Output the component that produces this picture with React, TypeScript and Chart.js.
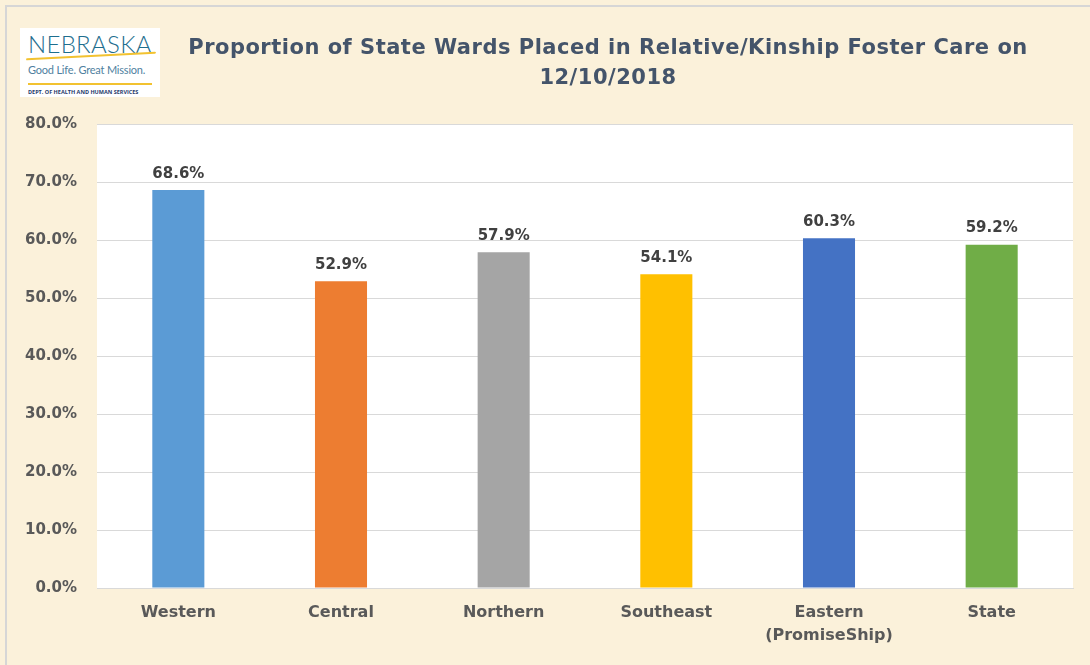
import React, { useEffect, useRef } from "react";
import { Chart, registerables } from "chart.js";

Chart.register(...registerables);

const categories: (string | string[])[] = [
  "Western",
  "Central",
  "Northern",
  "Southeast",
  ["Eastern", "(PromiseShip)"],
  "State",
];
const values: number[] = [68.6, 52.9, 57.9, 54.1, 60.3, 59.2];
const barColors: string[] = ["#5B9BD5", "#ED7D31", "#A5A5A5", "#FFC000", "#4472C4", "#70AD47"];
const yTicks: number[] = [0, 10, 20, 30, 40, 50, 60, 70, 80];
const titleLines: string[] = [
  "Proportion of State Wards Placed in Relative/Kinship Foster Care on",
  "12/10/2018",
];

const FONT = "'DejaVu Sans', Verdana, sans-serif";

const plotBg = {
  id: "plotBg",
  beforeDraw(chart: any) {
    const { ctx, chartArea } = chart;
    ctx.save();
    ctx.fillStyle = "#FFFFFF";
    ctx.fillRect(chartArea.left, chartArea.top, chartArea.right - chartArea.left, chartArea.bottom - chartArea.top);
    ctx.restore();
  },
};

const valueLabels = {
  id: "valueLabels",
  afterDatasetsDraw(chart: any) {
    const { ctx } = chart;
    const meta = chart.getDatasetMeta(0);
    ctx.save();
    ctx.font = `bold 15px ${FONT}`;
    ctx.fillStyle = "#404040";
    ctx.textAlign = "center";
    ctx.textBaseline = "bottom";
    meta.data.forEach((bar: any, i: number) => {
      ctx.fillText(values[i].toFixed(1) + "%", bar.x, bar.y - 9);
    });
    ctx.restore();
  },
};

export default function App() {
  const ref = useRef<HTMLCanvasElement | null>(null);
  useEffect(() => {
    if (!ref.current) return;
    const chart = new Chart(ref.current, {
      type: "bar",
      data: {
        labels: categories,
        datasets: [
          {
            data: values,
            backgroundColor: barColors,
            borderWidth: 0,
            categoryPercentage: 1,
            barPercentage: 0.32,
          },
        ],
      },
      options: {
        animation: false,
        responsive: false,
        devicePixelRatio: 1,
        layout: { padding: { top: 124, right: 17, bottom: 0, left: 0 } },
        plugins: { legend: { display: false }, tooltip: { enabled: false }, title: { display: false } },
        scales: {
          x: {
            grid: { display: false, drawTicks: false },
            border: { display: true, color: "#D9D9D9", width: 1 },
            ticks: {
              padding: 13,
              color: "#595959",
              font: { family: FONT, size: 16, weight: "bold", lineHeight: 1.45 },
              maxRotation: 0,
              autoSkip: false,
            },
            afterFit(scale: any) {
              scale.height = 77;
            },
          },
          y: {
            min: 0,
            max: 80,
            afterBuildTicks(scale: any) {
              scale.ticks = yTicks.map((v) => ({ value: v }));
            },
            grid: { color: "#D9D9D9", lineWidth: 1, drawTicks: false },
            border: { display: false },
            ticks: {
              padding: 20,
              color: "#595959",
              font: { family: FONT, size: 15, weight: "bold" },
              callback: (v: any) => Number(v).toFixed(1) + "%",
            },
            afterFit(scale: any) {
              scale.width = 97;
            },
          },
        },
      },
      plugins: [plotBg, valueLabels],
    });
    return () => chart.destroy();
  }, []);

  return (
    <div
      style={{
        position: "fixed",
        left: 0,
        top: 0,
        width: 1090,
        height: 665,
        background: "#FBF1DA",
        overflow: "hidden",
        fontFamily: FONT,
      }}
    >
      <div style={{ position: "absolute", left: 5, top: 5, width: 1085, height: 2, background: "#D6D6D6" }} />
      <div style={{ position: "absolute", left: 5, top: 5, width: 2, height: 660, background: "#D6D6D6" }} />
      <canvas ref={ref} width={1090} height={665} style={{ position: "absolute", left: 0, top: 0 }} />
      <div
        style={{
          position: "absolute",
          left: 20,
          top: 28,
          width: 140,
          height: 69,
          background: "#FFFFFF",
        }}
      >
        <div
          style={{
            position: "absolute",
            left: 8,
            top: 1,
            fontSize: 24,
            letterSpacing: 0.3,
            color: "#1E6E8E",
            fontFamily: "'Lato', sans-serif",
            fontWeight: 300,
            whiteSpace: "nowrap",
          }}
        >
          NEBRASKA
        </div>
        <div style={{ position: "absolute", left: 6, top: 27, width: 130, height: 2, background: "#F2C230", borderRadius: 2, transform: "rotate(-3deg)" }} />
        <div
          style={{
            position: "absolute",
            left: 8,
            top: 35,
            fontSize: 11,
            letterSpacing: -0.2,
            color: "#4F7FA0",
            fontFamily: "'Lato', 'Open Sans', sans-serif",
            whiteSpace: "nowrap",
          }}
        >
          Good Life. Great Mission.
        </div>
        <div style={{ position: "absolute", left: 8, top: 55, width: 124, height: 1.5, background: "#F2C230" }} />
        <div style={{ position: "absolute", left: 8, top: 60, fontSize: 5.5, fontWeight: 700, color: "#1F3A6B", whiteSpace: "nowrap", fontFamily: "'Open Sans', sans-serif" }}>
          DEPT. OF HEALTH AND HUMAN SERVICES
        </div>
      </div>
      <div
        style={{
          position: "absolute",
          left: 158,
          width: 900,
          top: 32,
          textAlign: "center",
          color: "#44546A",
          fontWeight: 700,
          fontSize: 21,
          letterSpacing: 0.5,
          lineHeight: "30px",
          whiteSpace: "nowrap",
        }}
      >
        {titleLines.map((t, i) => (
          <div key={i}>{t}</div>
        ))}
      </div>
    </div>
  );
}
